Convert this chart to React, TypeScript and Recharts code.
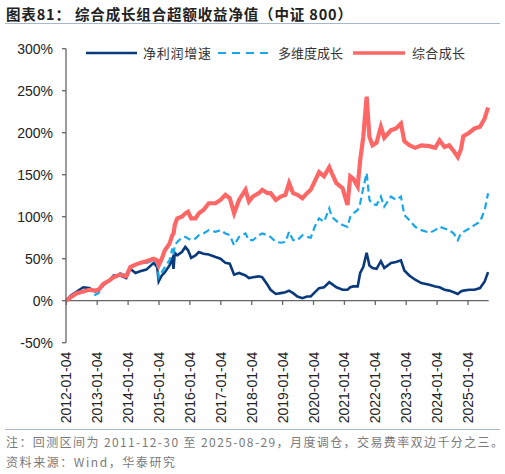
import { LineChart, Line, XAxis, YAxis, ReferenceLine } from "recharts";

// fractional year of each sample (2011-12-30 .. 2025-08-29)
const dates = [
  2012.0, 2012.15, 2012.35, 2012.56, 2012.75, 2012.94, 2013.05, 2013.21, 2013.4, 2013.54,
  2013.75, 2013.95, 2014.08, 2014.25, 2014.4, 2014.6, 2014.84, 2014.95, 2015.0, 2015.1,
  2015.2, 2015.35, 2015.44, 2015.48, 2015.52, 2015.6, 2015.75, 2015.86, 2015.95, 2016.05,
  2016.19, 2016.3, 2016.45, 2016.62, 2016.84, 2017.0, 2017.16, 2017.3, 2017.44, 2017.6,
  2017.81, 2017.92, 2018.05, 2018.24, 2018.35, 2018.52, 2018.62, 2018.79, 2018.95, 2019.1,
  2019.22, 2019.35, 2019.49, 2019.65, 2019.8, 2019.92, 2020.05, 2020.19, 2020.35, 2020.52,
  2020.6, 2020.75, 2020.95, 2021.11, 2021.2, 2021.3, 2021.44, 2021.52, 2021.62, 2021.73,
  2021.82, 2021.92, 2022.05, 2022.19, 2022.3, 2022.52, 2022.68, 2022.84, 2022.95, 2023.11,
  2023.3, 2023.5, 2023.76, 2023.95, 2024.09, 2024.25, 2024.4, 2024.55, 2024.68, 2024.78,
  2024.86, 2025.05, 2025.22, 2025.4, 2025.55, 2025.66,
];

// 净利润增速
const netProfit = [
  0, 6, 11, 16, 15, 11, 12, 20, 24, 30,
  30, 27, 38, 33, 35, 37, 45, 40, 23, 30,
  34, 42, 50, 38, 57, 54, 58, 64, 60, 51,
  54, 58, 56, 55, 52, 50, 45, 44, 31, 33,
  30, 27, 28, 29, 28, 19, 13, 8, 9, 10,
  12, 9, 5, 3, 5, 5, 10, 15, 16, 22,
  20, 16, 13, 13, 16, 17, 17, 33, 40, 57,
  42, 39, 38, 47, 39, 45, 46, 48, 36, 30,
  25, 21, 19, 17, 16, 13, 12, 10, 8, 11,
  12, 13, 13, 15, 23, 34,
];

// 多维度成长
const multiDim = [
  0, 5, 9, 12, 13, 7, 9, 18, 24, 27,
  33, 30, 40, 43, 45, 45, 48, 44, 28, 34,
  40, 48, 62, 55, 66, 70, 75, 76, 74, 72,
  74, 78, 80, 84, 82, 84, 80, 78, 66, 76,
  80, 72, 72, 78, 80, 78, 76, 70, 69, 70,
  82, 72, 72, 78, 76, 75, 88, 98, 94, 110,
  100, 95, 90, 88, 100, 104, 108, 116, 134, 152,
  120, 115, 114, 124, 112, 124, 120, 124, 102, 96,
  88, 84, 81, 84, 88, 86, 84, 80, 72, 80,
  82, 86, 90, 94, 108, 128,
];

// 综合成长
const composite = [
  0, 4, 9, 11, 13, 12, 13, 20, 24, 28,
  31, 29, 40, 43, 45, 47, 50, 48, 42, 50,
  60, 68, 78, 80, 90, 98, 100, 104, 106, 98,
  98, 104, 108, 116, 116, 120, 126, 122, 104, 120,
  132, 118, 124, 128, 132, 128, 128, 120, 124, 126,
  140, 128, 126, 122, 128, 132, 142, 153, 148, 159,
  152, 140, 134, 114, 148, 145, 136, 167, 195, 243,
  195, 185, 188, 207, 194, 203, 205, 211, 190, 185,
  182, 185, 184, 182, 191, 183, 185, 178, 171, 180,
  196, 200, 205, 207, 217, 230,
];

const yearTicks = [
  2012.01, 2013.01, 2014.01, 2015.01, 2016.01, 2017.01, 2018.01,
  2019.01, 2020.01, 2021.01, 2022.01, 2023.01, 2024.01, 2025.01,
];
const yearLabels = [
  "2012-01-04", "2013-01-04", "2014-01-04", "2015-01-04", "2016-01-04",
  "2017-01-04", "2018-01-04", "2019-01-04", "2020-01-04", "2021-01-04",
  "2022-01-04", "2023-01-04", "2024-01-04", "2025-01-04",
];
const pctTicks = [-50, 0, 50, 100, 150, 200, 250, 300];

const seriesNames = ["净利润增速", "多维度成长", "综合成长"];

const NAVY = "#0b3a7c";
const BLUE = "#1aa7e8";
const RED = "#ff6666";
const AXIS = "#666666";
const RULE = "#a8b8cc";

const data = dates.map((t, i) => ({
  t,
  a: netProfit[i],
  b: multiDim[i],
  c: composite[i],
}));

const font = "'Liberation Sans', Arial, sans-serif";
const cjk = "'Noto Sans CJK SC', sans-serif";

const YearTick = ({ x, y, payload }: any) => {
  const i = yearTicks.indexOf(payload.value);
  return (
    <text
      transform={`translate(${x},${y + 9}) rotate(-90)`}
      textAnchor="end"
      dy="0.36em"
      fontSize={14}
      fontFamily={font}
      fill="#222"
    >
      {yearLabels[i]}
    </text>
  );
};

export default function App() {
  return (
    <div
      style={{
        position: "absolute",
        left: 0,
        top: 0,
        width: 505,
        height: 474,
        background: "#fff",
      }}
    >
      <LineChart
        width={505}
        height={430}
        data={data}
        margin={{ top: 48.7, right: 16.3, left: 0, bottom: 0 }}
      >
        <XAxis
          dataKey="t"
          type="number"
          domain={[2012, 2025.68]}
          ticks={yearTicks}
          interval={0}
          axisLine={false}
          tickLine={false}
          tickSize={0}
          tickMargin={0}
          height={87.3}
          tick={<YearTick />}
        />
        <YAxis
          domain={[-50, 300]}
          ticks={pctTicks}
          interval={0}
          width={66}
          tickSize={4}
          tickMargin={9}
          stroke={AXIS}
          axisLine={{ stroke: AXIS, strokeWidth: 1.3 }}
          tickLine={{ stroke: AXIS, strokeWidth: 1.3 }}
          tick={{ fontSize: 14, fontFamily: font, fill: "#222" }}
          tickFormatter={(v: number) => `${v}%`}
        />
        <ReferenceLine y={0} stroke={AXIS} strokeWidth={1.3} />
        {yearTicks.map((t) => (
          <ReferenceLine
            key={t}
            segment={[
              { x: t, y: 0 },
              { x: t, y: -5 },
            ]}
            stroke={AXIS}
            strokeWidth={1.3}
          />
        ))}
        <Line
          type="linear"
          dataKey="a"
          stroke={NAVY}
          strokeWidth={2.6}
          dot={false}
          isAnimationActive={false}
        />
        <Line
          type="linear"
          dataKey="b"
          stroke={BLUE}
          strokeWidth={2.2}
          strokeDasharray="7 4"
          dot={false}
          isAnimationActive={false}
        />
        <Line
          type="linear"
          dataKey="c"
          stroke={RED}
          strokeWidth={4.2}
          dot={false}
          isAnimationActive={false}
        />
      </LineChart>

      <svg
        width={505}
        height={474}
        style={{ position: "absolute", left: 0, top: 0, pointerEvents: "none" }}
      >
        <text
          x={6}
          y={19.5}
          fontSize={14.5}
          fontWeight="bold"
          fontFamily={cjk}
          fill="#222"
          textLength={346}
          lengthAdjust="spacing"
        >
          图表81： 综合成长组合超额收益净值（中证 800）
        </text>
        <line x1={5} x2={500} y1={23.5} y2={23.5} stroke={RULE} strokeWidth={1.2} />

        {/* legend */}
        <line x1={86} x2={137} y1={53} y2={53} stroke={NAVY} strokeWidth={2.4} />
        <text x={143} y={57.5} fontSize={13} fontFamily={cjk} fill="#333" textLength={68}>
          {seriesNames[0]}
        </text>
        <line
          x1={218}
          x2={270}
          y1={53}
          y2={53}
          stroke={BLUE}
          strokeWidth={2.2}
          strokeDasharray="8 6"
        />
        <text x={278} y={57.5} fontSize={13} fontFamily={cjk} fill="#333" textLength={65}>
          {seriesNames[1]}
        </text>
        <line x1={353} x2={405} y1={53} y2={53} stroke={RED} strokeWidth={3.6} />
        <text x={412} y={57.5} fontSize={13} fontFamily={cjk} fill="#333" textLength={53}>
          {seriesNames[2]}
        </text>

        <line x1={5} x2={500} y1={429.5} y2={429.5} stroke={RULE} strokeWidth={1.2} />
        <text
          x={6}
          y={447}
          fontSize={12}
          fontFamily={cjk}
          fill="#7a7a7a"
          textLength={497}
          lengthAdjust="spacing"
        >
          注：回测区间为 2011-12-30 至 2025-08-29，月度调仓，交易费率双边千分之三。
        </text>
        <text
          x={6}
          y={467}
          fontSize={12}
          fontFamily={cjk}
          fill="#7a7a7a"
          textLength={169}
          lengthAdjust="spacing"
        >
          资料来源：Wind，华泰研究
        </text>
      </svg>
    </div>
  );
}
